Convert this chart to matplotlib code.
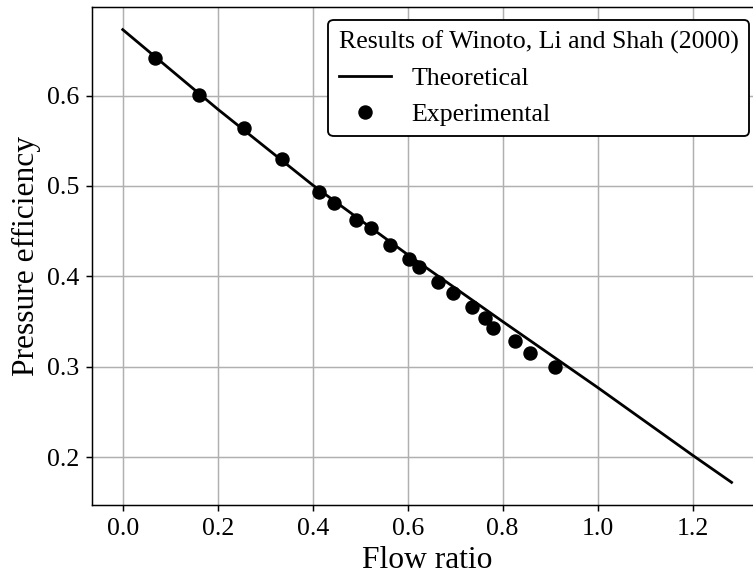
import matplotlib
matplotlib.use("Agg")
import matplotlib.pyplot as plt

# Theoretical curve
theory_x = [0.0, 0.2, 0.4, 0.6, 0.8, 1.0, 1.2, 1.282]
theory_y = [0.673, 0.585, 0.501, 0.424, 0.350, 0.277, 0.202, 0.172]

# Experimental points
exp_x = [0.068, 0.161, 0.255, 0.336, 0.413, 0.444, 0.491, 0.522, 0.563, 0.603,
         0.624, 0.663, 0.695, 0.736, 0.763, 0.780, 0.825, 0.857, 0.911]
exp_y = [0.642, 0.601, 0.564, 0.530, 0.493, 0.481, 0.462, 0.453, 0.435, 0.419,
         0.410, 0.394, 0.382, 0.366, 0.354, 0.343, 0.328, 0.315, 0.300]

legend_title = "Results of Winoto, Li and Shah (2000)"
s = 4.0 / 3.0

plt.rcParams['font.family'] = ['Liberation Serif', 'DejaVu Serif']
plt.rcParams['mathtext.fontset'] = 'stix'

fig = plt.figure(figsize=(7.53, 5.78), dpi=100)
ax = fig.add_axes([92.3 / 753, 73 / 578, 669.7 / 753, 498 / 578])

ax.plot(theory_x, theory_y, color='black', lw=1.5 * s, label='Theoretical', zorder=3)
ax.plot(exp_x, exp_y, 'o', color='black', markersize=9.4, label='Experimental', zorder=4)

ax.grid(True, color='#b0b0b0', lw=0.8 * s)
ax.set_axisbelow(True)
for sp in ax.spines.values():
    sp.set_linewidth(0.8 * s)
ax.tick_params(labelsize=14 * s, length=3.5 * s, width=0.8 * s, pad=3.5 * s)
ax.set_xticks([0.0, 0.2, 0.4, 0.6, 0.8, 1.0, 1.2])
ax.set_yticks([0.2, 0.3, 0.4, 0.5, 0.6])
ax.set_xlabel('Flow ratio', fontsize=17 * s)
ax.set_ylabel('Pressure efficiency', fontsize=17 * s)

leg = ax.legend(title=legend_title, loc='upper right', fontsize=14 * s,
                title_fontsize=14 * s, framealpha=1, edgecolor='black', fancybox=True,
                alignment='left')
leg.get_frame().set_linewidth(1.0 * s)

fig.savefig('out.png', dpi=100)
